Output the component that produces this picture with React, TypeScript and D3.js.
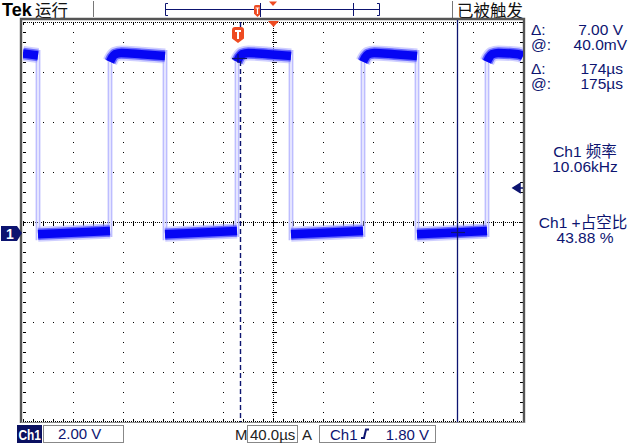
import React from "react";
import * as d3 from "d3";

// scope screen: 10 x 8 divisions, 40 µs/div, 2 V/div
const usPerDiv = 40;
const voltsPerDiv = 2;

// Ch1 trace (µs from left graticule edge, volts)
const fallingEdgesUs = [12.0, 113.6, 214.4, 315.2];
const risingEdgesUs = [69.6, 171.2, 272.0, 371.2];
const highProfileDt = [0, 1.5, 4, 9, 25];
const highProfileV = [6.85, 7.0, 7.15, 7.2, 7.15];
const leftHighV = [7.18, 7.1];
const highEndV = 7.08;
const lowStartV = -0.05;
const lowEndV = 0.08;
const edgeJitterUs = [-1.2, 1.2];

// cursors / trigger
const cursorTimesUs = [173.6, 347.2];
const cursorVolts = [7.0, 0.04];
const triggerUs = 172;
const triggerLevelV = 1.8;

const readoutLabels = ["Δ:", "@:", "Δ:", "@:"];
const readoutValues = ["7.00 V", "40.0mV", "174µs", "175µs"];
const measureTitles = ["Ch1 频率", "Ch1 +占空比"];
const measureValues = ["10.06kHz", "43.88 %"];

const NAVY = "#0d1470";
const ORANGE = "#ee4b22";
const FONT = "'Liberation Sans', Arial, sans-serif";
const CJK = "'Noto Sans CJK SC', sans-serif";

const App: React.FC = () => {
  const left = 23, right = 523, top = 22, bottom = 422;
  const x = d3.scaleLinear().domain([0, 10 * usPerDiv]).range([left, right]);
  const zeroY = 233;
  const y = d3
    .scaleLinear()
    .domain([-(bottom - zeroY) / 25, (zeroY - top) / 25])
    .range([bottom, top]);
  const gx = d3.scaleLinear().domain([0, 10]).range([left, right]);
  const gy = d3.scaleLinear().domain([0, 8]).range([top, bottom]);

  const line = d3
    .line<[number, number]>()
    .x((d) => x(d[0]))
    .y((d) => y(d[1]))
    .curve(d3.curveMonotoneX);

  // build trace segments
  const segments: [number, number][][] = [];
  segments.push([[0, leftHighV[0]], [fallingEdgesUs[0], leftHighV[1]]]);
  risingEdgesUs.forEach((r, i) => {
    const f = fallingEdgesUs[i];
    segments.push([[f, lowStartV], [r, lowEndV]]);
    const end = i + 1 < fallingEdgesUs.length ? fallingEdgesUs[i + 1] : 10 * usPerDiv;
    const pts: [number, number][] = highProfileDt
      .filter((dt) => r + dt < end)
      .map((dt, k) => [r + dt, highProfileV[k]]);
    pts.push([end, highEndV]);
    segments.push(pts);
  });

  const edges: { t: number; y1: number; y2: number }[] = [];
  risingEdgesUs.forEach((r) =>
    edgeJitterUs.forEach((j) => edges.push({ t: r + j, y1: y(lowEndV) + 6, y2: y(highProfileV[0]) - 8 }))
  );
  fallingEdgesUs.forEach((f) =>
    edgeJitterUs.forEach((j) => edges.push({ t: f + j, y1: y(highEndV) - 6, y2: y(lowStartV) + 6 }))
  );

  const px = (v: number) => Math.round(v) + 0.5;
  const minorX = d3.range(left, right + 1, 10);
  const minorY = d3.range(top, bottom + 1, 10);
  const cx = px(gx(5));
  const cy = px(gy(4));

  const shield = (sx: number, sy: number, w: number, h: number) => {
    const r = w * 0.25;
    return `M${sx},${sy + r} Q${sx},${sy} ${sx + r},${sy} H${sx + w - r} Q${sx + w},${sy} ${sx + w},${sy + r} V${sy + h * 0.72} L${sx + w / 2},${sy + h} L${sx},${sy + h * 0.72} Z`;
  };

  const trigX = x(triggerUs);
  const trigLevY = y(triggerLevelV);

  return (
    <svg
      width={631}
      height={444}
      style={{ position: "absolute", left: 0, top: 0, background: "white" }}
    >
      <rect x={0} y={0} width={631} height={444} fill="white" />

      {/* header */}
      <text x={2} y={16} fontFamily={FONT} fontWeight="bold" fontSize={18} fill="#000">Tek</text>
      <text x={35} y={16.5} fontFamily={CJK} fontSize={16.5} fill="#111">运行</text>
      <line x1={93.5} x2={93.5} y1={1} y2={17} stroke="#777" />
      <line x1={452.5} x2={452.5} y1={1} y2={18} stroke="#777" />
      <text x={457} y={16.5} fontFamily={CJK} fontSize={16.5} fill="#111">已被触发</text>

      {/* record view */}
      <g stroke={NAVY} strokeWidth={1} fill="none">
        <line x1={166} x2={379} y1={9.5} y2={9.5} />
        <path d="M168,3.5 H165.5 V15.5 H168" />
        <path d="M377,3.5 H379.5 V15.5 H377" />
        <line x1={353.5} x2={353.5} y1={3} y2={16} />
      </g>
      <path d={shield(254, 5, 7, 12)} fill={ORANGE} />
      <path d="M255.5,8 H259.5 M257.5,8 V14" stroke="white" strokeWidth={1.2} />
      <line x1={260.5} x2={260.5} y1={3} y2={17} stroke={NAVY} />
      <path d={`M269,1.5 H277 L273,6 Z`} fill={ORANGE} />

      {/* graticule */}
      <g fill="none" stroke="#000" strokeWidth={1} shapeRendering="crispEdges">
        {d3.range(1, 10).filter((i) => i !== 5).map((i) => (
          <line key={`v${i}`} x1={px(gx(i))} x2={px(gx(i))} y1={top} y2={bottom + 1} strokeDasharray="1 9" />
        ))}
        {d3.range(1, 8).filter((i) => i !== 4).map((i) => (
          <line key={`h${i}`} y1={px(gy(i))} y2={px(gy(i))} x1={left} x2={right + 1} strokeDasharray="1 9" />
        ))}
        <line x1={cx} x2={cx} y1={top} y2={bottom} strokeDasharray="1 1" />
        <line y1={cy} y2={cy} x1={left} x2={right} strokeDasharray="1 1" />
        {minorY.map((v) => (
          <g key={`ty${v}`}>
            <line x1={cx - 2} x2={cx + 3} y1={px(v)} y2={px(v)} />
            <line x1={left} x2={left + 3} y1={px(v)} y2={px(v)} />
            <line x1={right - 3} x2={right} y1={px(v)} y2={px(v)} />
          </g>
        ))}
        {minorX.map((v) => (
          <g key={`tx${v}`}>
            <line y1={cy - 2} y2={cy + 3} x1={px(v)} x2={px(v)} />
            <line y1={top} y2={top + 3} x1={px(v)} x2={px(v)} />
            <line y1={bottom - 3} y2={bottom} x1={px(v)} x2={px(v)} />
          </g>
        ))}
        <line x1={left} x2={right} y1={bottom - 0.5} y2={bottom - 0.5} strokeDasharray="1 1" />
        <line x1={left} x2={right} y1={top + 0.5} y2={top + 0.5} strokeDasharray="1 1" />
      </g>

      {/* frame */}
      <path d={`M21,423 V19 H524 V423`} fill="none" stroke="#555" strokeWidth={2.4} />
      <line x1={21} x2={525} y1={422.5} y2={422.5} stroke="#8a8a8a" strokeWidth={1} />

      {/* trace */}
      <defs>
        <clipPath id="plot">
          <rect x={left} y={top} width={right - left} height={bottom - top} />
        </clipPath>
      </defs>
      <g clipPath="url(#plot)" fill="none">
        {edges.map((e, i) => (
          <line key={`e${i}`} x1={x(e.t)} x2={x(e.t)} y1={e.y1} y2={e.y2} stroke="#bdbdff" strokeWidth={1.8} />
        ))}
        {segments.map((s, i) => (
          <path key={`h${i}`} d={line(s) || ""} stroke="#a8a8ff" strokeOpacity={0.55} strokeWidth={15} />
        ))}
        {segments.map((s, i) => (
          <path key={`m${i}`} d={line(s) || ""} stroke="#4040ff" strokeOpacity={0.7} strokeWidth={11.5} />
        ))}
        {segments.map((s, i) => (
          <path key={`c${i}`} d={line(s) || ""} stroke="#0606f4" strokeWidth={8.5} />
        ))}
      </g>

      {/* cursors */}
      <line x1={px(x(cursorTimesUs[0]))} x2={px(x(cursorTimesUs[0]))} y1={y(cursorVolts[0]) + 3} y2={bottom} stroke={NAVY} strokeWidth={1.4} strokeDasharray="5 3" />
      <line x1={px(x(cursorTimesUs[0]))} x2={px(x(cursorTimesUs[0]))} y1={top} y2={top + 6} stroke={NAVY} strokeWidth={1.4} />
      <line x1={x(cursorTimesUs[0]) - 8} x2={x(cursorTimesUs[0]) + 7} y1={px(y(cursorVolts[0]))} y2={px(y(cursorVolts[0]))} stroke={NAVY} strokeWidth={1.2} />
      <line x1={x(cursorTimesUs[0]) - 2} x2={x(cursorTimesUs[0]) - 2} y1={y(cursorVolts[0]) - 4} y2={y(cursorVolts[0]) + 5} stroke={NAVY} strokeWidth={1.2} />
      <line x1={px(x(cursorTimesUs[1]))} x2={px(x(cursorTimesUs[1]))} y1={top - 2} y2={bottom} stroke={NAVY} strokeWidth={1.3} />
      <line x1={x(cursorTimesUs[1]) - 6} x2={x(cursorTimesUs[1]) + 8} y1={px(y(cursorVolts[1]))} y2={px(y(cursorVolts[1]))} stroke={NAVY} strokeWidth={1.2} />

      {/* trigger point and position markers */}
      <path d={shield(trigX - 6, 27, 12, 16)} fill={ORANGE} />
      <path d={`M${trigX - 3},31 H${trigX + 3} M${trigX},31 V39`} stroke="white" strokeWidth={2} />
      <path d={`M${cx - 5.5},21 H${cx + 5.5} L${cx},27 Z`} fill={ORANGE} />
      <path d={`M513,${trigLevY} L520,${trigLevY - 4.5} V${trigLevY + 4.5} Z M519,${trigLevY} H523`} fill={NAVY} stroke={NAVY} strokeWidth={1.5} />

      {/* ch1 ground marker */}
      <path d={`M1,${zeroY - 7} H17 L22,${zeroY} L17,${zeroY + 8} H1 Z`} fill={NAVY} />
      <text x={6} y={zeroY + 5.5} fontFamily={FONT} fontWeight="bold" fontSize={14} fill="white">1</text>

      {/* cursor readouts */}
      {readoutLabels.map((l, i) => {
        const by = [35, 50, 74, 89][i];
        return (
          <g key={`r${i}`} fontFamily={FONT} fontSize={15.5} fill={NAVY}>
            <text x={531} y={by}>{l}</text>
            <text x={i === 1 ? 627 : 623} y={by} textAnchor="end">{readoutValues[i]}</text>
          </g>
        );
      })}

      {/* measurements */}
      {measureTitles.map((t, i) => (
        <g key={`m${i}`} fill={NAVY} fontSize={15.5} textAnchor="middle">
          <text x={i === 0 ? 585 : 583} y={i === 0 ? 157 : 228} fontFamily={`${FONT.split(",")[0]}, ${CJK}`}>{t}</text>
          <text x={585} y={i === 0 ? 172 : 243} fontFamily={FONT}>{measureValues[i]}</text>
        </g>
      ))}

      {/* bottom status */}
      <rect x={17} y={425} width={25} height={18} fill="#0a1060" />
      <text x={18.5} y={440} fontFamily={FONT} fontWeight="bold" fontSize={15} fill="white" textLength={22.5} lengthAdjust="spacingAndGlyphs">Ch1</text>
      <rect x={43.5} y={425.5} width={80} height={17} fill="none" stroke="#888" />
      <text x={58} y={439} fontFamily={FONT} fontSize={15} fill={NAVY}>{`${voltsPerDiv.toFixed(2)} V`}</text>
      <text x={235} y={440} fontFamily={FONT} fontSize={15} fill="#222">M</text>
      <rect x={247.5} y={425.5} width={50} height={17} fill="none" stroke="#888" />
      <text x={250} y={440} fontFamily={FONT} fontSize={15} fill="#222">{`${usPerDiv.toFixed(1)}µs`}</text>
      <text x={302} y={440} fontFamily={FONT} fontSize={15} fill="#222">A</text>
      <rect x={319.5} y={425.5} width={116} height={17} fill="none" stroke="#888" />
      <text x={330} y={440} fontFamily={FONT} fontSize={15} fill={NAVY}>Ch1</text>
      <path d="M361,438 H364 L366,429.5 H369" fill="none" stroke={NAVY} strokeWidth={2} />
      <text x={429} y={440} fontFamily={FONT} fontSize={15} fill={NAVY} textAnchor="end">{`${triggerLevelV.toFixed(2)} V`}</text>
    </svg>
  );
};

export default App;
